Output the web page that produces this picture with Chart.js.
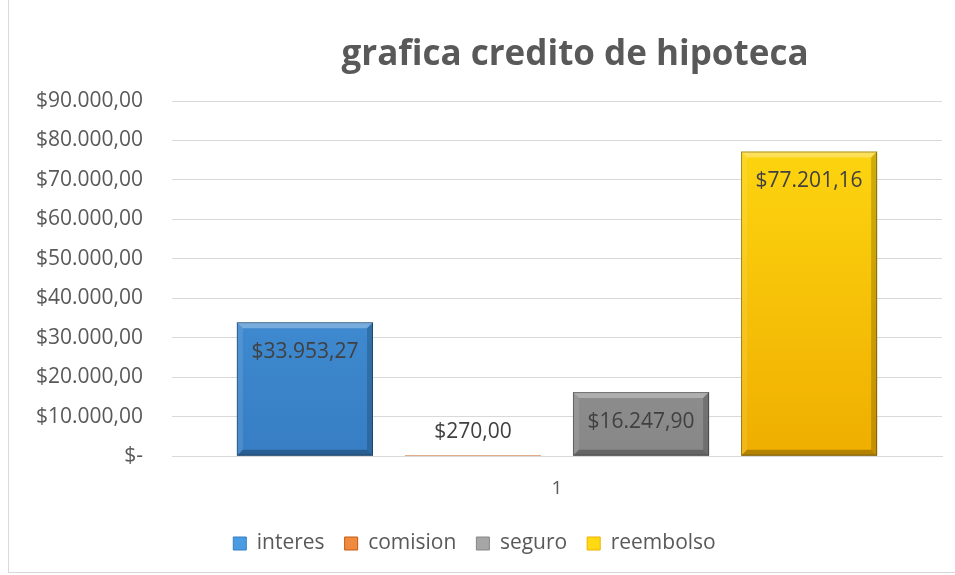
<!DOCTYPE html>
<html lang="es">
<head>
  <meta charset="UTF-8">
  <title>grafica credito de hipoteca</title>
  <script src="https://cdn.jsdelivr.net/npm/chart.js"></script>
  <style>
    html, body {
      margin: 0;
      background: #fff;
      overflow: hidden;
    }
    .wrap {
      position: relative;
      width: 955px;
      height: 575px;
    }
    .frame {
      position: absolute;
      left: 8px;
      top: -2px;
      width: 960px;
      height: 573px;
      border: 1px solid #d9d9d9;
      pointer-events: none;
    }
  </style>
</head>
<body>

<div class="wrap">
  <canvas id="chart" width="955" height="575"></canvas>
  <div class="frame"></div>
</div>

<script>
  const categories = ["1"];
  const seriesNames = ["interes", "comision", "seguro", "reembolso"];
  const seriesValues = [33953.27, 270.00, 16247.90, 77201.16];
  const yTicks = [0, 10000, 20000, 30000, 40000, 50000, 60000, 70000, 80000, 90000];

  // top / bottom colours of the bevelled bars
  const colors = [
    ['#4a9be2', '#377ec4'],
    ['#f08a3e', '#c55a11'],
    ['#a6a6a6', '#878787'],
    ['#ffda12', '#efae00']
  ];

  function money(v) {
    if (v === 0) return '$-';
    const parts = v.toFixed(2).split('.');
    const int = parts[0].replace(/\B(?=(\d{3})+(?!\d))/g, '.');
    return '$' + int + ',' + parts[1];
  }

  function fill(i) {
    return (ctx) => {
      const area = ctx.chart.chartArea;
      if (!area) return colors[i][0];
      const g = ctx.chart.ctx.createLinearGradient(0, area.top, 0, area.bottom);
      g.addColorStop(0, colors[i][0]);
      g.addColorStop(1, colors[i][1]);
      return g;
    };
  }

  // bevel edges + value labels
  const bevel = {
    id: 'bevel',
    afterDatasetsDraw(chart) {
      const c = chart.ctx;
      chart.data.datasets.forEach((ds, i) => {
        const bar = chart.getDatasetMeta(i).data[0];
        const w = bar.width, l = bar.x - w / 2, r = bar.x + w / 2;
        const t = bar.y, b = bar.base;
        const e = Math.min(6, (b - t) / 2);
        c.save();
        if (e > 1) {
          c.fillStyle = 'rgba(255,255,255,0.3)';
          c.beginPath();
          c.moveTo(l, t); c.lineTo(r, t); c.lineTo(r - e, t + e); c.lineTo(l + e, t + e);
          c.fill();
          c.fillStyle = 'rgba(255,255,255,0.1)';
          c.beginPath();
          c.moveTo(l, t); c.lineTo(l + e, t + e); c.lineTo(l + e, b - e); c.lineTo(l, b);
          c.fill();
          c.fillStyle = 'rgba(0,0,0,0.18)';
          c.beginPath();
          c.moveTo(r, t); c.lineTo(r, b); c.lineTo(r - e, b - e); c.lineTo(r - e, t + e);
          c.fill();
          c.fillStyle = 'rgba(0,0,0,0.25)';
          c.beginPath();
          c.moveTo(l, b); c.lineTo(r, b); c.lineTo(r - e, b - e); c.lineTo(l + e, b - e);
          c.fill();
          c.strokeStyle = 'rgba(0,0,0,0.35)';
          c.lineWidth = 1;
          c.strokeRect(l + 0.5, t + 0.5, w - 1, b - t - 1);
        }
        c.font = '21px "Open Sans"';
        c.fillStyle = '#404040';
        c.textAlign = 'center';
        c.textBaseline = 'middle';
        const v = ds.data[0];
        const y = (b - t) > 40 ? t + 30 : t - 23;
        c.fillText(money(v), bar.x, y);
        c.restore();
      });
    }
  };

  const titlePlugin = {
    id: 'titleText',
    afterDraw(chart) {
      const c = chart.ctx;
      c.save();
      c.font = 'bold 35px "Open Sans"';
      c.fillStyle = '#595959';
      c.textAlign = 'center';
      c.textBaseline = 'middle';
      c.fillText('grafica credito de hipoteca', 575, 55);
      c.restore();
    }
  };

  new Chart(document.getElementById('chart'), {
    type: 'bar',
    data: {
      labels: categories,
      datasets: seriesNames.map((name, i) => ({
        label: name,
        data: [seriesValues[i]],
        backgroundColor: fill(i),
        borderWidth: 0,
        categoryPercentage: 0.873,
        barPercentage: 0.81
      }))
    },
    options: {
      responsive: false,
      animation: false,
      layout: { padding: { left: 7, right: 13, top: 101, bottom: 11 } },
      plugins: {
        title: { display: false },
        tooltip: { enabled: false },
        legend: {
          position: 'bottom',
          labels: {
            boxWidth: 13,
            boxHeight: 13,
            padding: 20,
            color: '#595959',
            font: { family: 'Open Sans', size: 21 },
            generateLabels(chart) {
              return chart.data.datasets.map((ds, i) => ({
                text: ds.label,
                fillStyle: colors[i][0],
                strokeStyle: colors[i][1],
                lineWidth: 1,
                datasetIndex: i,
                fontColor: '#595959'
              }));
            }
          }
        }
      },
      scales: {
        x: {
          grid: { display: false },
          border: { color: '#d9d9d9' },
          ticks: { color: '#595959', font: { family: 'Open Sans', size: 19 }, padding: 13 }
        },
        y: {
          min: 0,
          max: 90000,
          afterBuildTicks(axis) { axis.ticks = yTicks.map(v => ({ value: v })); },
          border: { display: false },
          grid: { color: '#d9d9d9', drawTicks: false },
          ticks: {
            color: '#595959',
            font: { family: 'Open Sans', size: 21 },
            padding: 29,
            callback: v => money(v)
          }
        }
      }
    },
    plugins: [bevel, titlePlugin]
  });
</script>

</body>
</html>
